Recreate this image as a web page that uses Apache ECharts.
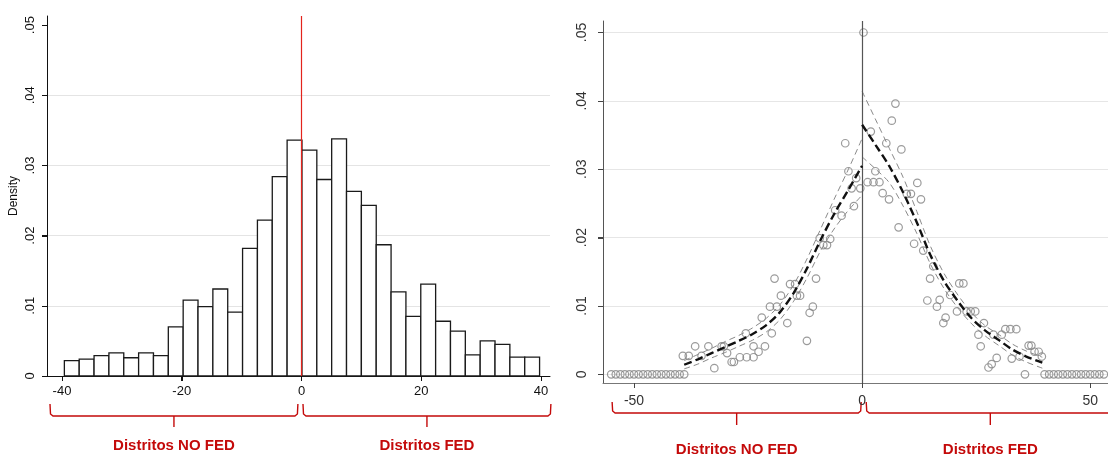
<!DOCTYPE html>
<html><head><meta charset="utf-8">
<script src="https://cdn.jsdelivr.net/npm/echarts@6/dist/echarts.min.js"></script>
<style>html,body{margin:0;padding:0;background:#fff}#c{width:1108px;height:454px}</style>
</head><body><div id="c"></div><script>
// ---------- DATA ----------
const histDensity = [
  0.0022, 0.0024, 0.0029, 0.0033, 0.0026, 0.0033, 0.0029, 0.0070,
  0.0108, 0.0099, 0.0124, 0.0091, 0.0182, 0.0222, 0.0284, 0.0336,
  0.0322, 0.0280, 0.0338, 0.0263, 0.0243, 0.0187, 0.0120, 0.0085,
  0.0131, 0.0078, 0.0064, 0.0030, 0.0050, 0.0045, 0.0027, 0.0027
];
const binStart = -39.6;
const binWidth = 2.48;
const histXTicks = [-40, -20, 0, 20, 40];
const densityTicks = [0, 0.01, 0.02, 0.03, 0.04, 0.05];

const zeroLeftX = [-55,-54,-53,-52,-51,-50,-49,-48,-47,-46,-45,-44,-43,-42,-41,-40,-39];
const zeroRightX = [40,41,42,43,44,45,46,47,48,49,50,51,52,53,54];
const ptX = [
  -39.3,-38,-36.6,-35.2,-33.7,-32.4,-30.8,-30.3,-29.6,-28.6,-28.1,-26.8,-25.5,-25.3,-23.8,-23.8,
  -22.7,-22,-21.3,-20.2,-19.8,-19.2,-18.7,-17.8,-16.4,-15.8,-14.7,-14.3,-13.6,-12.1,-11.5,-10.8,
  -10.1,-9.3,-8.5,-7.7,-7,-5.9,-4.5,-3.7,-3,-2.3,-1.8,-1.3,-0.4,0.3,
  1.2,1.9,2.5,2.9,3.8,4.5,5.3,5.9,6.5,7.3,8,8.6,9.8,10.7,11.4,12.1,12.9,13.4,14.3,14.9,15.6,
  16.4,17,17.8,18.3,19.3,20.8,21.3,22.2,22.9,23.8,24.8,25.5,26,26.7,27.7,28.4,28.8,29.5,30.6,
  31.4,32.5,32.8,33.8,34.5,35.7,36.5,37.1,37.8,38.7,39.4
];
const ptY = [
  0.0027,0.0027,0.0041,0.0027,0.0041,0.0009,0.0041,0.0041,0.0031,0.0018,0.0018,0.0025,0.0060,0.0025,0.0025,0.0041,
  0.0033,0.0083,0.0041,0.0099,0.0060,0.0140,0.0099,0.0115,0.0075,0.0132,0.0132,0.0115,0.0115,0.0049,0.0090,0.0099,
  0.0140,0.0199,0.0189,0.0189,0.0198,0.0240,0.0232,0.0338,0.0297,0.0272,0.0246,0.0287,0.0272,0.0500,
  0.0281,0.0355,0.0281,0.0297,0.0281,0.0265,0.0338,0.0256,0.0371,0.0396,0.0215,0.0329,0.0264,0.0264,0.0191,0.0280,0.0256,0.0181,0.0108,0.0140,0.0158,
  0.0099,0.0109,0.0075,0.0083,0.0116,0.0092,0.0133,0.0133,0.0092,0.0092,0.0092,0.0058,0.0041,0.0075,0.0010,0.0015,0.0058,0.0024,0.0058,
  0.0066,0.0066,0.0023,0.0066,0.0026,0,0.0042,0.0042,0.0033,0.0033,0.0026
];
const fitLeftX  = [-39, -36, -33, -30, -27, -24, -21, -18, -15, -12, -9, -6, -3, 0];
const fitLeftY  = [0.0014, 0.0022, 0.0031, 0.0040, 0.0049, 0.0059, 0.0072, 0.0091, 0.0119, 0.0156, 0.0198, 0.0236, 0.0270, 0.0305];
const ciLeftUpY = [0.0020, 0.0029, 0.0038, 0.0048, 0.0057, 0.0068, 0.0082, 0.0102, 0.0131, 0.0170, 0.0214, 0.0258, 0.0300, 0.0345];
const ciLeftLoY = [0.0008, 0.0015, 0.0024, 0.0032, 0.0041, 0.0050, 0.0062, 0.0080, 0.0107, 0.0142, 0.0182, 0.0214, 0.0240, 0.0262];
const fitRightX  = [0, 3, 6, 9, 12, 15, 18, 21, 24, 27, 30, 33, 36, 39.5];
const fitRightY  = [0.0365, 0.0335, 0.0304, 0.0266, 0.0222, 0.0174, 0.0136, 0.0107, 0.0082, 0.0064, 0.0050, 0.0036, 0.0026, 0.0017];
const ciRightUpY = [0.0414, 0.0372, 0.0330, 0.0288, 0.0238, 0.0187, 0.0147, 0.0116, 0.0090, 0.0071, 0.0058, 0.0044, 0.0034, 0.0025];
const ciRightLoY = [0.0318, 0.0300, 0.0280, 0.0246, 0.0206, 0.0161, 0.0125, 0.0097, 0.0074, 0.0056, 0.0042, 0.0028, 0.0018, 0.0009];
const rdXTicks = [-50, 0, 50];

// ---------- CHART ----------
const FONT = '"Liberation Sans", Arial, sans-serif';
const RED = '#c40a0a';
const chart = echarts.init(document.getElementById('c'), null, {renderer: 'canvas'});

const histData = histDensity.map((d, i) => [binStart + i * binWidth, binStart + (i + 1) * binWidth, d]);
const zip = (xs, ys) => xs.map((x, i) => [x, ys[i]]);
const scatterData = zeroLeftX.map(x => [x, 0]).concat(zip(ptX, ptY)).concat(zeroRightX.map(x => [x, 0]));
const yFmt = v => (v === 0 ? '0' : String(+v.toFixed(2)).replace(/^0/, ''));

const lineSeries = (xs, ys, main) => ({
  type: 'line', xAxisIndex: 1, yAxisIndex: 1, data: zip(xs, ys), smooth: 0.3,
  symbol: 'none', silent: true, z: main ? 5 : 4,
  lineStyle: main ? {color: '#111', width: 2.4, type: [8, 4]} : {color: '#8a8a8a', width: 1, type: [6, 4]}
});

const option = {
  animation: false,
  backgroundColor: '#fff',
  grid: [
    {left: 47, top: 16, width: 503, height: 360, containLabel: false, outerBoundsMode: 'none'},
    {left: 603, top: 21, width: 505, height: 362, containLabel: false, outerBoundsMode: 'none'}
  ],
  xAxis: [
    {
      type: 'value', gridIndex: 0, min: -42.5, max: 41.5,
      axisLine: {onZero: false, lineStyle: {color: '#111', width: 1}},
      axisTick: {show: true, inside: false, length: 5, customValues: histXTicks, lineStyle: {color: '#111', width: 1}},
      axisLabel: {customValues: histXTicks, color: '#111', fontSize: 13, margin: 9, fontFamily: FONT},
      splitLine: {show: false}
    },
    {
      type: 'value', gridIndex: 1, min: -56.8, max: 53.9,
      axisLine: {onZero: false, lineStyle: {color: '#777', width: 1}},
      axisTick: {show: true, inside: false, length: 5, customValues: rdXTicks, lineStyle: {color: '#444', width: 1}},
      axisLabel: {customValues: rdXTicks, color: '#333', fontSize: 14, margin: 11, fontFamily: FONT},
      splitLine: {show: false}
    }
  ],
  yAxis: [
    {
      type: 'value', gridIndex: 0, min: 0, max: 0.0513,
      name: 'Density', nameLocation: 'middle', nameGap: 27,
      nameTextStyle: {color: '#111', fontSize: 12, fontFamily: FONT},
      axisLine: {show: true, onZero: false, lineStyle: {color: '#111', width: 1}},
      axisTick: {show: true, inside: false, length: 5, customValues: densityTicks, lineStyle: {color: '#111', width: 1}},
      axisLabel: {customValues: densityTicks, rotate: 90, margin: 10, color: '#111', fontSize: 13, fontFamily: FONT, formatter: yFmt},
      splitLine: {show: true, lineStyle: {color: ['#e4e4e4','#e4e4e4','#e4e4e4','#e4e4e4','#e4e4e4','rgba(0,0,0,0)'], width: 1}}
    },
    {
      type: 'value', gridIndex: 1, min: -0.00127, max: 0.05168,
      axisLine: {show: true, onZero: false, lineStyle: {color: '#555', width: 1}},
      axisTick: {show: true, inside: false, length: 5, customValues: densityTicks, lineStyle: {color: '#444', width: 1}},
      axisLabel: {customValues: densityTicks, rotate: 90, margin: 14, color: '#333', fontSize: 14, fontFamily: FONT, formatter: yFmt},
      splitLine: {show: true, lineStyle: {color: '#e6e6e6', width: 1}}
    }
  ],
  series: [
    {
      type: 'custom', xAxisIndex: 0, yAxisIndex: 0, data: histData, silent: true,
      renderItem: (params, api) => {
        const p0 = api.coord([api.value(0), api.value(2)]);
        const p1 = api.coord([api.value(1), 0]);
        return {type: 'rect', shape: {x: p0[0], y: p0[1], width: p1[0] - p0[0], height: p1[1] - p0[1]},
                style: {fill: '#fff', stroke: '#1a1a1a', lineWidth: 1.3}};
      },
      markLine: {symbol: 'none', silent: true, label: {show: false}, z: 10,
        lineStyle: {color: '#e3231c', width: 1.2, type: 'solid'}, data: [{xAxis: 0}]}
    },
    {
      type: 'scatter', xAxisIndex: 1, yAxisIndex: 1, data: scatterData, symbol: 'circle', symbolSize: 7.5, silent: true,
      itemStyle: {color: 'rgba(255,255,255,0)', borderColor: '#828282', borderWidth: 1.2},
      markLine: {symbol: 'none', silent: true, label: {show: false},
        lineStyle: {color: '#555', width: 1.2, type: 'solid'}, data: [{xAxis: 0}]}
    },
    lineSeries(fitLeftX, ciLeftUpY, false),
    lineSeries(fitLeftX, ciLeftLoY, false),
    lineSeries(fitRightX, ciRightUpY, false),
    lineSeries(fitRightX, ciRightLoY, false),
    lineSeries(fitLeftX, fitLeftY, true),
    lineSeries(fitRightX, fitRightY, true)
  ]
};
chart.setOption(option);

// Tick marks at the labelled values, placed through the axis scales
const px = (axisIdx, v) => chart.convertToPixel({xAxisIndex: axisIdx}, v);
const py = (axisIdx, v) => chart.convertToPixel({yAxisIndex: axisIdx}, v);
const tickEls = [];
function addTicks(axisIdx, xTicks, yTicks, xAxisPix, yAxisPix, color) {
  xTicks.forEach(t => { const x = Math.round(px(axisIdx, t)) + 0.5;
    tickEls.push({type: 'line', silent: true, z: 20, shape: {x1: x, y1: yAxisPix, x2: x, y2: yAxisPix + 5}, style: {stroke: color, lineWidth: 1}}); });
  yTicks.forEach(t => { const y = Math.round(py(axisIdx, t)) + 0.5;
    tickEls.push({type: 'line', silent: true, z: 20, shape: {x1: xAxisPix - 5, y1: y, x2: xAxisPix, y2: y}, style: {stroke: color, lineWidth: 1}}); });
}
addTicks(0, histXTicks, densityTicks, px(0, -42.5), py(0, 0), '#111');
addTicks(1, [-50, 50], densityTicks, px(1, -56.8), py(1, -0.00127), '#444');

// Group braces and labels below the axes, anchored on the x scales
function brace(axisIdx, a, b, top, hy, tip, textY, label) {
  const x0 = px(axisIdx, a), x1 = px(axisIdx, b), cx = (x0 + x1) / 2;
  return [
    {type: 'polyline', silent: true, shape: {points: [[x0, top], [x0 + 0.5, hy - 2], [x0 + 3, hy], [x1 - 3, hy], [x1 - 0.5, hy - 2], [x1, top]]},
     style: {stroke: RED, lineWidth: 1.4, fill: null}},
    {type: 'line', silent: true, shape: {x1: cx, y1: hy, x2: cx, y2: tip}, style: {stroke: RED, lineWidth: 1.4}},
    {type: 'text', silent: true, x: cx, y: textY,
     style: {text: label, fill: RED, font: 'bold 15px ' + FONT, textAlign: 'center', align: 'center', textVerticalAlign: 'middle', verticalAlign: 'middle'}}
  ];
}
const g = [].concat(
  tickEls,
  brace(0, -42, -0.6, 404, 416, 427, 446, 'Distritos NO FED'),
  brace(0, 0.25, 41.65, 404, 416, 427, 446, 'Distritos FED'),
  brace(1, -54.8, -0.2, 402, 413, 425, 450, 'Distritos NO FED'),
  brace(1, 0.9, 55.3, 402, 413, 425, 450, 'Distritos FED')
);
chart.setOption({graphic: g});
</script></body></html>
